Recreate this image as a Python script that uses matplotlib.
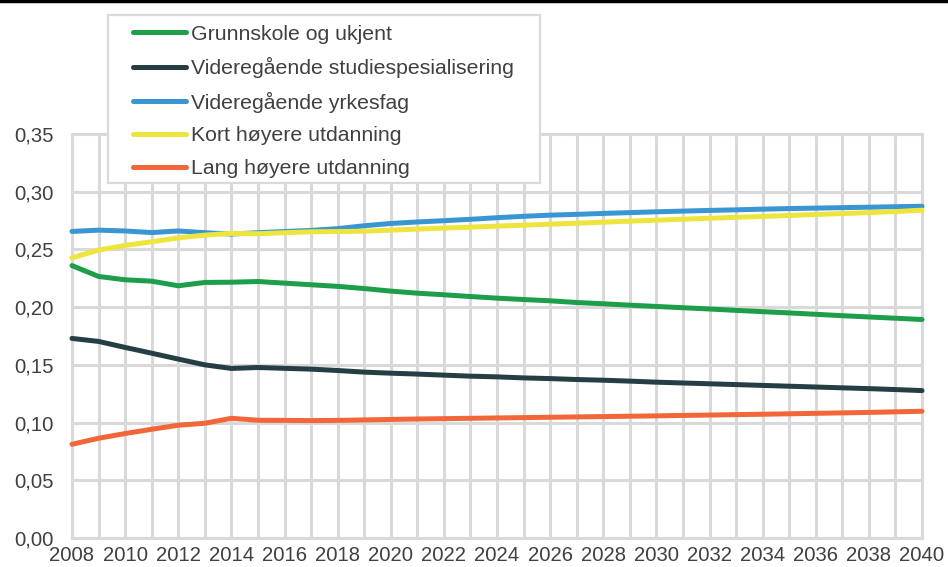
import matplotlib
matplotlib.use("Agg")
import matplotlib.pyplot as plt
from matplotlib.patches import Rectangle
from matplotlib.lines import Line2D
from matplotlib.ticker import FuncFormatter

plt.rcParams['font.family'] = ['Liberation Sans', 'DejaVu Sans']

# år 2008-2040
aar = list(range(2008, 2041))

grunnskole = [0.2360, 0.2266, 0.2237, 0.2225, 0.2185, 0.2214, 0.2216, 0.2222, 0.2208, 0.2194,
              0.2180, 0.2161, 0.2139, 0.2121, 0.2107, 0.2092, 0.2078, 0.2066, 0.2055, 0.2040,
              0.2029, 0.2017, 0.2006, 0.1995, 0.1984, 0.1972, 0.1961, 0.1950, 0.1938, 0.1926,
              0.1915, 0.1904, 0.1893]
studiespes = [0.1729, 0.1703, 0.1651, 0.1601, 0.1550, 0.1500, 0.1469, 0.1477, 0.1470, 0.1463,
              0.1451, 0.1437, 0.1428, 0.1420, 0.1411, 0.1402, 0.1396, 0.1387, 0.1381, 0.1373,
              0.1367, 0.1359, 0.1350, 0.1343, 0.1336, 0.1329, 0.1322, 0.1315, 0.1308, 0.1301,
              0.1294, 0.1286, 0.1277]
yrkesfag = [0.2656, 0.2667, 0.2660, 0.2646, 0.2660, 0.2645, 0.2633, 0.2645, 0.2655, 0.2665,
            0.2680, 0.2705, 0.2725, 0.2738, 0.2749, 0.2761, 0.2775, 0.2787, 0.2797, 0.2804,
            0.2812, 0.2819, 0.2826, 0.2832, 0.2838, 0.2843, 0.2849, 0.2854, 0.2858, 0.2862,
            0.2866, 0.2870, 0.2874]
kort_hoyere = [0.2428, 0.2494, 0.2535, 0.2566, 0.2600, 0.2624, 0.2639, 0.2636, 0.2645, 0.2653,
               0.2655, 0.2658, 0.2667, 0.2676, 0.2685, 0.2693, 0.2702, 0.2710, 0.2719, 0.2727,
               0.2736, 0.2745, 0.2753, 0.2762, 0.2770, 0.2778, 0.2786, 0.2794, 0.2803, 0.2811,
               0.2819, 0.2828, 0.2840]
lang_hoyere = [0.0812, 0.0864, 0.0905, 0.0942, 0.0977, 0.0994, 0.1037, 0.1020, 0.1019, 0.1017,
               0.1019, 0.1023, 0.1027, 0.1031, 0.1034, 0.1037, 0.1040, 0.1043, 0.1046, 0.1049,
               0.1052, 0.1055, 0.1058, 0.1062, 0.1065, 0.1069, 0.1072, 0.1076, 0.1080, 0.1084,
               0.1088, 0.1093, 0.1098]

navn = ['Grunnskole og ukjent', 'Videregående studiespesialisering', 'Videregående yrkesfag',
        'Kort høyere utdanning', 'Lang høyere utdanning']
serier = [grunnskole, studiespes, yrkesfag, kort_hoyere, lang_hoyere]
farger = ['#1c9e4a', '#243e43', '#3a96d2', '#ede53e', '#f2673a']

tekstfarge = '#404040'
grid = '#d9d9d9'

fig = plt.figure(figsize=(9.48, 5.67), dpi=100)
ax = fig.add_axes([72/948, 1 - 538/567, 850/948, 404/567])

for s, n, c in zip(serier, navn, farger):
    ax.plot(aar, s, color=c, lw=3.6, label=n, solid_capstyle='round', clip_on=False, zorder=3)

ax.set_xlim(2008, 2040)
ax.set_ylim(0, 0.35)
ax.set_xticks(aar)
ax.set_xticklabels([str(a) if a % 2 == 0 else '' for a in aar])
ax.set_yticks([i * 0.05 for i in range(8)])
ax.yaxis.set_major_formatter(FuncFormatter(lambda v, p: f"{v:.2f}".replace('.', ',')))
ax.tick_params(length=0, labelsize=14.6, colors=tekstfarge)
ax.tick_params(axis='y', pad=13)
ax.tick_params(axis='x', pad=6)
ax.grid(True, color=grid, lw=2.2, zorder=0)
ax.set_axisbelow(True)
for sp in ax.spines.values():
    sp.set_color(grid)
    sp.set_linewidth(2.2)

# svart strek øverst
fig.add_artist(Line2D([0, 1], [1 - 0.5/567, 1 - 0.5/567], color='black', lw=2.5, transform=fig.transFigure))

# legend-boks
fig.add_artist(Rectangle((108/948, 1 - 183/567), 432/948, 168/567, transform=fig.transFigure,
                         facecolor='white', edgecolor=grid, lw=1.6, zorder=4))
handles, labels = ax.get_legend_handles_labels()
leg = fig.legend(handles, labels, loc='upper left', bbox_to_anchor=(133/948, 1 - 24.5/567),
                 frameon=False, borderpad=0, borderaxespad=0, fontsize=15.3, handlelength=2.5,
                 handletextpad=0.22, labelspacing=0.64, labelcolor=tekstfarge)
leg.set_zorder(5)

fig.savefig('out.png', dpi=100)
